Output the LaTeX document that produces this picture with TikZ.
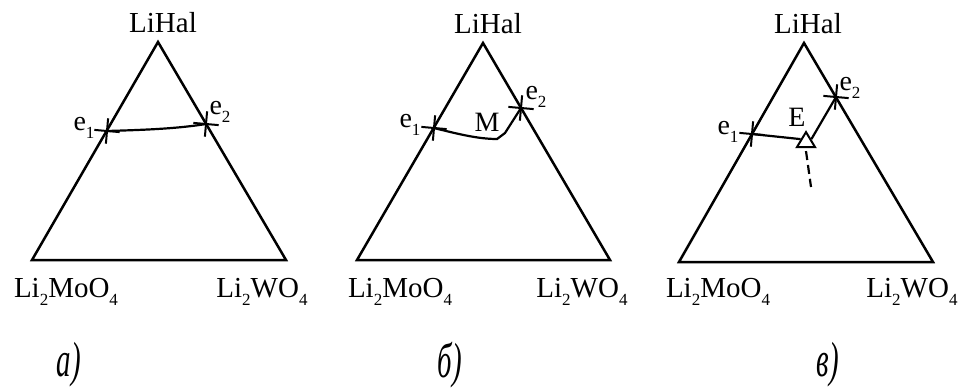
\documentclass[tikz,border=0pt]{standalone}
\usepackage{fontspec}
\usepackage{graphicx}
\setmainfont{Liberation Serif}
\usetikzlibrary{shapes.misc,shapes.geometric}
\newcommand\lsub[1]{\raisebox{-0.28em}{\fontsize{17}{17}\selectfont #1}}
\tikzset{
  side/.style={line width=2.5pt, line join=miter},
  curve/.style={line width=2.2pt},
  lbl/.style={font=\fontsize{29}{32}\selectfont, inner sep=0pt},
  elbl/.style={font=\fontsize{28}{30}\selectfont, inner sep=0pt},
  captxt/.style={font=\fontsize{34}{36}\selectfont\itshape, inner sep=0pt},
  emark/.style={draw, cross out, rotate=40, minimum size=16pt, inner sep=0pt, line width=2pt},
  tmark/.style={draw, isosceles triangle, shape border rotate=90, isosceles triangle apex angle=62, minimum height=15pt, inner sep=0pt, line width=2pt, fill=white}
}
\begin{document}
\begin{tikzpicture}[x=1pt,y=-1pt]
\useasboundingbox (0,0) rectangle (964,388);
% ---------- panel a ----------
\coordinate (aT) at (158,42);
\coordinate (aL) at (32,260);
\coordinate (aR) at (286,260);
\draw[side] (aT) -- (aL) -- (aR) -- cycle;
\node[emark] (ae1) at (107,131) {};
\node[emark] (ae2) at (206,124) {};
\draw[curve] (ae1.center) .. controls (140,130) and (175,129) .. (ae2.center);
\node[lbl] (aTl) at (163,23) {LiHal};
\node[lbl] (aLl) at (66,292) {Li\lsub{2}MoO\lsub{4}};
\node[lbl] (aRl) at (262,292) {Li\lsub{2}WO\lsub{4}};
\node[elbl] (ae1l) at (84,128) {e\lsub{1}};
\node[elbl] (ae2l) at (220,112) {e\lsub{2}};
\node[captxt] (acap) at (69,365) {\scalebox{0.85}[1.45]{а)}};
% ---------- panel b ----------
\coordinate (bT) at (483,43);
\coordinate (bL) at (357,260);
\coordinate (bR) at (610,260);
\draw[side] (bT) -- (bL) -- (bR) -- cycle;
\node[emark] (be1) at (434,128) {};
\node[emark] (be2) at (521,108) {};
\coordinate (bM) at (497,139);
\draw[curve] (be1.center) .. controls (458,134) and (478,139) .. (bM) -- (505,133) -- (be2.center);
\node[lbl] (bTl) at (488,24) {LiHal};
\node[lbl] (bLl) at (400,292) {Li\lsub{2}MoO\lsub{4}};
\node[lbl] (bRl) at (582,292) {Li\lsub{2}WO\lsub{4}};
\node[elbl] (be1l) at (410,125) {e\lsub{1}};
\node[elbl] (be2l) at (536,97) {e\lsub{2}};
\node[elbl] (bMl) at (487,122) {M};
\node[captxt] (bcap) at (450,365) {\scalebox{0.85}[1.45]{б)}};
% ---------- panel c ----------
\coordinate (cT) at (804,43);
\coordinate (cL) at (679,262);
\coordinate (cR) at (933,262);
\draw[side] (cT) -- (cL) -- (cR) -- cycle;
\node[emark] (ce1) at (752,134) {};
\node[emark] (ce2) at (836,97) {};
\node[tmark] (cE) at (806,142) {};
\draw[curve] (ce1.center) -- (cE.left side);
\draw[curve] (cE.right side) -- (ce2.center);
\draw[curve, dash pattern=on 9pt off 5pt] (cE.south) ++(0,3) -- (811,187);
\node[lbl] (cTl) at (808,24) {LiHal};
\node[lbl] (cLl) at (718,292) {Li\lsub{2}MoO\lsub{4}};
\node[lbl] (cRl) at (912,292) {Li\lsub{2}WO\lsub{4}};
\node[elbl] (ce1l) at (728,132) {e\lsub{1}};
\node[elbl] (ce2l) at (850,88) {e\lsub{2}};
\node[elbl] (cEl) at (797,117) {E};
\node[captxt] (ccap) at (828,365) {\scalebox{0.85}[1.45]{в)}};
\end{tikzpicture}
\end{document}
